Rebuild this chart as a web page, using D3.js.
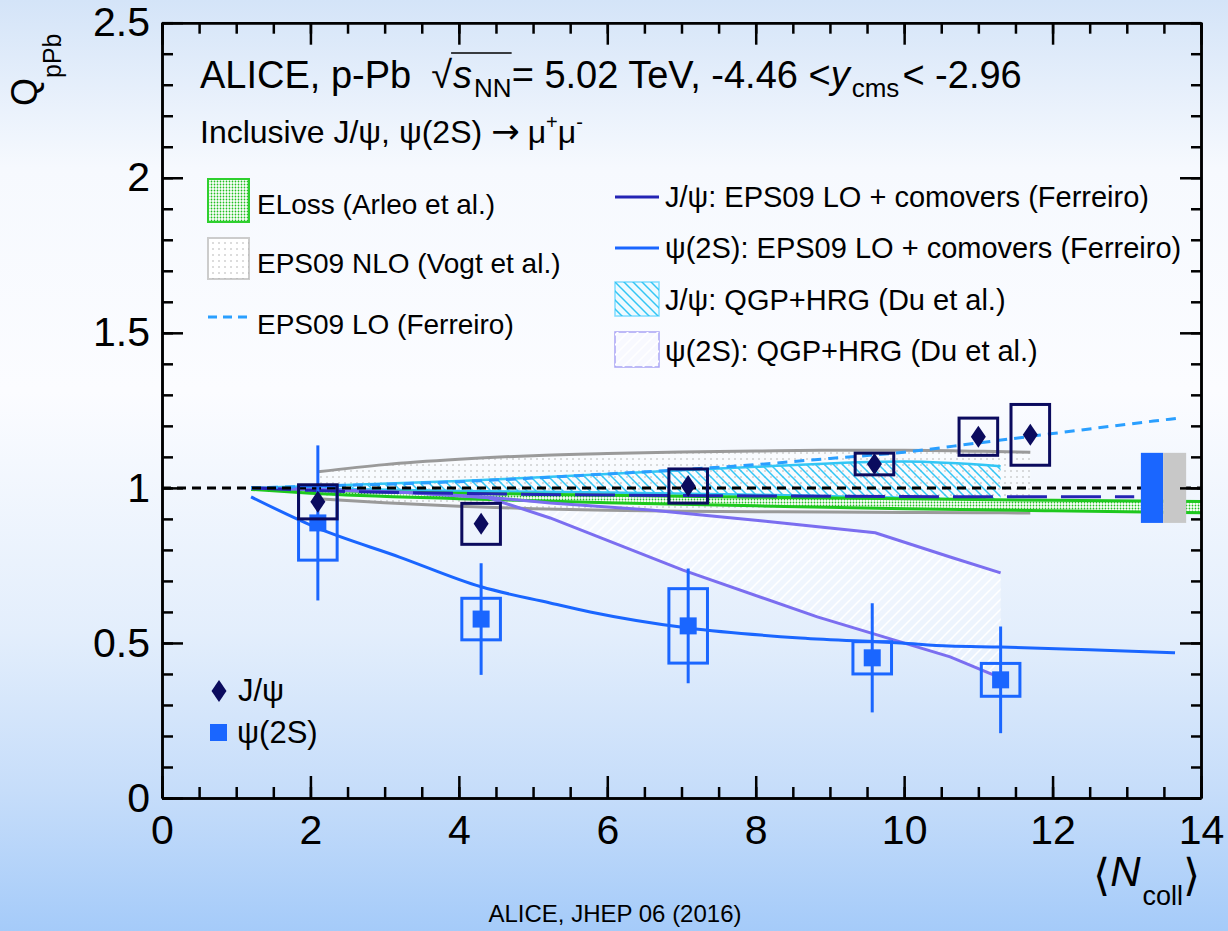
<!DOCTYPE html>
<meta charset="utf-8">
<head>
  <title>ALICE QpPb vs Ncoll</title>
</head>
<style>
body { margin: 0; }
svg { display: block; font-family: "Liberation Sans", Arial, Helvetica, sans-serif; }
</style>
<body>
  <svg width="1228" height="931"></svg>
  <script src="https://cdnjs.cloudflare.com/ajax/libs/d3/7.8.5/d3.min.js"></script>
  <script>
// ---- data ----
var xMajor = [0, 2, 4, 6, 8, 10, 12, 14];
var xMinor = d3.range(0, 14.01, 0.5);
var yMajor = [0, 0.5, 1, 1.5, 2, 2.5];
var yMinor = d3.range(0, 2.501, 0.1);

// J/psi points
var jpsiX    = [2.10, 4.30, 7.09, 9.60, 11.00, 11.70];
var jpsiQ    = [0.955, 0.884, 1.006, 1.077, 1.165, 1.171];
var jpsiSyst = [0.055, 0.066, 0.055, 0.035, 0.060, 0.098];
var jpsiStat = [0.020, 0.022, 0.020, 0.020, 0.022, 0.022];

// psi(2S) points
var psiX    = [2.10, 4.30, 7.09, 9.57, 11.30];
var psiQ    = [0.887, 0.577, 0.555, 0.452, 0.381];
var psiStat = [0.250, 0.180, 0.185, 0.176, 0.172];
var psiSyst = [0.120, 0.067, 0.120, 0.052, 0.053];
var boxHalfWidth = 0.26;

// global uncertainties (J/psi blue, psi(2S) grey)
var globX0  = [13.19, 13.49];
var globX1  = [13.49, 13.80];
var globUnc = [0.113, 0.113];

// EPS09 NLO (Vogt) band
var nloX  = [2.1, 3, 4, 5, 6, 7, 8, 9, 10, 11, 11.7];
var nloHi = [1.052, 1.075, 1.092, 1.104, 1.111, 1.116, 1.119, 1.121, 1.121, 1.118, 1.115];
var nloLo = [0.965, 0.952, 0.941, 0.933, 0.928, 0.925, 0.923, 0.922, 0.921, 0.920, 0.919];

// ELoss (Arleo) band
var elX  = [1.2, 2, 4, 6, 8, 10, 12, 14];
var elHi = [1.000, 0.993, 0.983, 0.976, 0.970, 0.965, 0.960, 0.956];
var elLo = [0.995, 0.983, 0.965, 0.952, 0.942, 0.933, 0.926, 0.920];

// EPS09 LO (Ferreiro)
var loX = [1.2, 2, 4, 6, 8, 9, 10, 11, 12, 13, 13.7];
var loQ = [1.000, 1.005, 1.020, 1.045, 1.075, 1.095, 1.115, 1.145, 1.175, 1.205, 1.225];

// J/psi: EPS09 LO + comovers (Ferreiro)
var jcoX = [1.2, 2, 4, 6, 8, 10, 12, 13.1];
var jcoQ = [1.000, 0.992, 0.982, 0.977, 0.974, 0.972, 0.971, 0.971];

// psi(2S): EPS09 LO + comovers (Ferreiro)
var pcoX = [1.2, 2.1, 3.2, 4.3, 5.23, 5.77, 7.09, 8.6, 9.95, 10.6, 11.3, 12.5, 13.65];
var pcoQ = [0.971, 0.870, 0.777, 0.681, 0.629, 0.600, 0.548, 0.516, 0.500, 0.490, 0.487, 0.478, 0.468];

// J/psi: QGP+HRG (Du) band
var jduX  = [1.2, 2, 4, 6, 8, 10, 11.3];
var jduHi = [1.000, 1.005, 1.022, 1.045, 1.068, 1.085, 1.070];
var jduLo = [1.000, 0.998, 0.990, 0.985, 0.978, 0.968, 0.958];

// psi(2S): QGP+HRG (Du) band
var pduX  = [1.2, 2.1, 3.3, 4.4, 5.23, 6.58, 8.1, 9.61, 10.62, 11.3];
var pduHi = [1.000, 0.995, 0.985, 0.970, 0.951, 0.929, 0.893, 0.855, 0.777, 0.726];
var pduLoX = [1.2, 2.1, 3.3, 4.4, 5.23, 7.02, 8.83, 10.62, 11.3];
var pduLo = [1.000, 0.995, 0.985, 0.968, 0.903, 0.735, 0.584, 0.455, 0.387];

// ---- chart ----
var svg = d3.select('svg');
var W = 1228, H = 931;
var x = d3.scaleLinear().domain([0, 14]).range([162, 1201]);
var y = d3.scaleLinear().domain([0, 2.5]).range([798, 22.7]);

var defs = svg.append('defs');
var grad = defs.append('linearGradient').attr('id', 'bg').attr('x1', 0).attr('y1', 0).attr('x2', 0).attr('y2', 1);
[[0, '#d4e4f8'], [0.18, '#f6f9fe'], [0.42, '#fbfcff'], [0.68, '#e3eefc'], [0.85, '#c6ddfa'], [1, '#a5cbf9']]
  .forEach(function(s) { grad.append('stop').attr('offset', s[0]).attr('stop-color', s[1]); });

var pDots = defs.append('pattern').attr('id', 'dots').attr('patternUnits', 'userSpaceOnUse').attr('width', 6).attr('height', 6);
pDots.append('circle').attr('cx', 3).attr('cy', 3).attr('r', 0.75).attr('fill', '#a8a8a8');

var pGreen = defs.append('pattern').attr('id', 'gdots').attr('patternUnits', 'userSpaceOnUse').attr('width', 3).attr('height', 3);
pGreen.append('rect').attr('width', 3).attr('height', 3).attr('fill', '#ffffff');
pGreen.append('circle').attr('cx', 1.5).attr('cy', 1.5).attr('r', 0.9).attr('fill', '#22c022');

var pCyan = defs.append('pattern').attr('id', 'chatch').attr('patternUnits', 'userSpaceOnUse').attr('width', 9).attr('height', 9);
pCyan.append('path').attr('d', 'M0,0L9,9M-3,6L3,12M6,-3L12,3').attr('stroke', '#33c6f5').attr('stroke-width', 1.5);

var pPurp = defs.append('pattern').attr('id', 'phatch').attr('patternUnits', 'userSpaceOnUse').attr('width', 10).attr('height', 10);
pPurp.append('path').attr('d', 'M0,10L10,0M-3,3L3,-3M7,13L13,7').attr('stroke', '#ffffff').attr('stroke-width', 1.5);

svg.append('rect').attr('width', W).attr('height', H).attr('fill', 'url(#bg)');

var plot = svg.append('g');

function band(xs, lo, hi, fill) {
  var pts = xs.map(function(v, i) { return [v, lo[i], hi[i]]; });
  return plot.append('path').datum(pts)
    .attr('d', d3.area().x(function(d) { return x(d[0]); }).y0(function(d) { return y(d[1]); }).y1(function(d) { return y(d[2]); }).curve(d3.curveMonotoneX))
    .attr('fill', fill).attr('stroke', 'none');
}
function curve(xs, ys, color, width, dash, crv) {
  var pts = xs.map(function(v, i) { return [v, ys[i]]; });
  return plot.append('path').datum(pts)
    .attr('d', d3.line().x(function(d) { return x(d[0]); }).y(function(d) { return y(d[1]); }).curve(crv || d3.curveMonotoneX))
    .attr('fill', 'none').attr('stroke', color).attr('stroke-width', width).attr('stroke-dasharray', dash || null);
}

// purple psi(2S) QGP+HRG band (fill between two separately sampled edges)
(function() {
  var up = pduX.map(function(v, i) { return [x(v), y(pduHi[i])]; });
  var lo = pduLoX.map(function(v, i) { return [x(v), y(pduLo[i])]; }).reverse();
  var line = d3.line();
  plot.append('path').attr('d', line(up.concat(lo)) + 'Z').attr('fill', 'rgba(255,255,255,0.35)');
  plot.append('path').attr('d', line(up.concat(lo)) + 'Z').attr('fill', 'url(#phatch)');
})();

// EPS09 NLO band
band(nloX, nloLo, nloHi, 'rgba(255,255,255,0.45)');
band(nloX, nloLo, nloHi, 'url(#dots)');
curve(nloX, nloHi, '#9a9a9a', 3);
curve(nloX, nloLo, '#9a9a9a', 3);

// cyan J/psi QGP+HRG band
band(jduX, jduLo, jduHi, 'url(#chatch)');
curve(jduX, jduHi, '#33c6f5', 2.5);
curve(jduX, jduLo, '#33c6f5', 2.5);

// green ELoss band
band(elX, elLo, elHi, 'url(#gdots)');
curve(elX, elHi, '#1ec81e', 3);
curve(elX, elLo, '#1ec81e', 3);

// model curves
curve(pduX, pduHi, '#7b6ef0', 3, null, d3.curveLinear);
curve(pduLoX, pduLo, '#7b6ef0', 3, null, d3.curveLinear);
curve(pcoX, pcoQ, '#1a66ff', 3);
curve(jcoX, jcoQ, '#2424b4', 3, '40,14');
curve(loX, loQ, '#2a9fff', 3, '10,7');

// unity line
plot.append('line').attr('x1', x(0)).attr('x2', x(14)).attr('y1', y(1)).attr('y2', y(1))
  .attr('stroke', '#000').attr('stroke-width', 3).attr('stroke-dasharray', '9,6');

// global uncertainty boxes
plot.selectAll('rect.glob').data(globX0).enter().append('rect').attr('class', 'glob')
  .attr('x', function(d) { return x(d); })
  .attr('width', function(d, i) { return x(globX1[i]) - x(d); })
  .attr('y', function(d, i) { return y(1 + globUnc[i]); })
  .attr('height', function(d, i) { return y(1 - globUnc[i]) - y(1 + globUnc[i]); })
  .attr('fill', function(d, i) { return i === 0 ? '#1a66ff' : '#c8c8c8'; });

// psi(2S) data
var psiCol = '#1a66ff';
plot.selectAll('line.pstat').data(psiX).enter().append('line').attr('class', 'pstat')
  .attr('x1', function(d) { return x(d); }).attr('x2', function(d) { return x(d); })
  .attr('y1', function(d, i) { return y(psiQ[i] + psiStat[i]); })
  .attr('y2', function(d, i) { return y(psiQ[i] - psiStat[i]); })
  .attr('stroke', psiCol).attr('stroke-width', 3);
plot.selectAll('rect.psys').data(psiX).enter().append('rect').attr('class', 'psys')
  .attr('x', function(d) { return x(d - boxHalfWidth); })
  .attr('width', function(d) { return x(d + boxHalfWidth) - x(d - boxHalfWidth); })
  .attr('y', function(d, i) { return y(psiQ[i] + psiSyst[i]); })
  .attr('height', function(d, i) { return y(psiQ[i] - psiSyst[i]) - y(psiQ[i] + psiSyst[i]); })
  .attr('fill', 'none').attr('stroke', psiCol).attr('stroke-width', 3);
plot.selectAll('rect.pmk').data(psiX).enter().append('rect').attr('class', 'pmk')
  .attr('x', function(d) { return x(d) - 8.5; }).attr('y', function(d, i) { return y(psiQ[i]) - 8.5; })
  .attr('width', 17).attr('height', 17).attr('fill', psiCol);

// J/psi data
var jCol = '#0b0b5e';
plot.selectAll('line.jstat').data(jpsiX).enter().append('line').attr('class', 'jstat')
  .attr('x1', function(d) { return x(d); }).attr('x2', function(d) { return x(d); })
  .attr('y1', function(d, i) { return y(jpsiQ[i] + jpsiStat[i]); })
  .attr('y2', function(d, i) { return y(jpsiQ[i] - jpsiStat[i]); })
  .attr('stroke', jCol).attr('stroke-width', 3);
plot.selectAll('rect.jsys').data(jpsiX).enter().append('rect').attr('class', 'jsys')
  .attr('x', function(d) { return x(d - boxHalfWidth); })
  .attr('width', function(d) { return x(d + boxHalfWidth) - x(d - boxHalfWidth); })
  .attr('y', function(d, i) { return y(jpsiQ[i] + jpsiSyst[i]); })
  .attr('height', function(d, i) { return y(jpsiQ[i] - jpsiSyst[i]) - y(jpsiQ[i] + jpsiSyst[i]); })
  .attr('fill', 'none').attr('stroke', jCol).attr('stroke-width', 3);
var diamond = 'M0,-11L7.5,0L0,11L-7.5,0Z';
plot.selectAll('path.jmk').data(jpsiX).enter().append('path').attr('class', 'jmk')
  .attr('transform', function(d, i) { return 'translate(' + x(d) + ',' + y(jpsiQ[i]) + ')'; })
  .attr('d', diamond).attr('fill', jCol);

// ---- axes / frame ----
var frame = svg.append('g').attr('class', 'frame');
function styleAxis(g) {
  g.attr('font-family', null).attr('font-size', null);
  g.selectAll('line').attr('stroke', '#000').attr('stroke-width', 2.5);
  g.selectAll('.domain').attr('stroke', '#000').attr('stroke-width', 2.5);
  g.selectAll('text').attr('font-size', 41).attr('fill', '#000');
}
frame.append('g').attr('transform', 'translate(0,' + y(0) + ')')
  .call(d3.axisBottom(x).tickValues(xMinor).tickSize(-11).tickSizeOuter(0).tickFormat(''))
  .call(styleAxis);
frame.append('g').attr('transform', 'translate(0,' + y(0) + ')')
  .call(d3.axisBottom(x).tickValues(xMajor).tickSize(-22).tickSizeOuter(0).tickPadding(17).tickFormat(d3.format('d')))
  .call(styleAxis);
frame.append('g').attr('transform', 'translate(0,' + y(2.5) + ')')
  .call(d3.axisTop(x).tickValues(xMinor).tickSize(-11).tickSizeOuter(0).tickFormat(''))
  .call(styleAxis);
frame.append('g').attr('transform', 'translate(0,' + y(2.5) + ')')
  .call(d3.axisTop(x).tickValues(xMajor).tickSize(-22).tickSizeOuter(0).tickFormat(''))
  .call(styleAxis);
frame.append('g').attr('transform', 'translate(' + x(0) + ',0)')
  .call(d3.axisLeft(y).tickValues(yMinor).tickSize(-11).tickSizeOuter(0).tickFormat(''))
  .call(styleAxis);
frame.append('g').attr('transform', 'translate(' + x(0) + ',0)')
  .call(d3.axisLeft(y).tickValues(yMajor).tickSize(-21).tickSizeOuter(0).tickPadding(12).tickFormat(function(d) { return String(d); }))
  .call(styleAxis);
frame.append('g').attr('transform', 'translate(' + x(14) + ',0)')
  .call(d3.axisRight(y).tickValues(yMinor).tickSize(-10).tickSizeOuter(0).tickFormat(''))
  .call(styleAxis);
frame.append('g').attr('transform', 'translate(' + x(14) + ',0)')
  .call(d3.axisRight(y).tickValues(yMajor).tickSize(-21).tickSizeOuter(0).tickFormat(''))
  .call(styleAxis);

// ---- texts ----
function rich(x0, yb, parts) {
  var cx = x0, out = [];
  parts.forEach(function(p) {
    var t = svg.append('text').attr('x', cx).attr('y', yb + (p.dy || 0))
      .attr('font-size', p.size).attr('font-style', p.italic ? 'italic' : null)
      .attr('font-family', p.family || null).text(p.t);
    var w = t.node().getComputedTextLength();
    out.push({ x: cx, w: w });
    cx += w + (p.gap || 0);
  });
  return out;
}

var hs = 38, hsub = 26;
var head = rich(200, 88, [
  { t: 'ALICE, p-Pb', size: hs, gap: 20 },
  { t: '\u221A', size: hs, gap: 1 },
  { t: 's', size: hs, italic: true, gap: 2 },
  { t: 'NN', size: hsub, dy: 9 },
  { t: '= 5.02 TeV, -4.46 <', size: hs },
  { t: 'y', size: hs, italic: true, gap: 2 },
  { t: 'cms', size: hsub, dy: 9, gap: 3 },
  { t: '< -2.96', size: hs }
]);
svg.append('line').attr('x1', head[1].x + head[1].w - 1).attr('x2', head[3].x + head[3].w)
  .attr('y1', 88 - 35).attr('y2', 88 - 35).attr('stroke', '#000').attr('stroke-width', 1.5);

rich(200, 143, [
  { t: 'Inclusive J/\u03C8, \u03C8(2S)', size: 32, gap: 9 },
  { t: '\u2192', size: 34, family: 'DejaVu Sans', gap: 8 },
  { t: '\u03BC', size: 32 },
  { t: '+', size: 20, dy: -14 },
  { t: '\u03BC', size: 32 },
  { t: '-', size: 20, dy: -14 }
]);

// left legend
var lg = svg.append('g').attr('font-size', 28);
lg.append('rect').attr('x', 208).attr('y', 179).attr('width', 41).attr('height', 43).attr('fill', 'url(#gdots)').attr('stroke', '#2ed02e').attr('stroke-width', 2);
lg.append('text').attr('x', 257).attr('y', 214).text('ELoss (Arleo et al.)');
lg.append('rect').attr('x', 208).attr('y', 238).attr('width', 41).attr('height', 41).attr('fill', '#ffffff').attr('stroke', '#cccccc').attr('stroke-width', 2);
lg.append('rect').attr('x', 208).attr('y', 238).attr('width', 41).attr('height', 41).attr('fill', 'url(#dots)');
lg.append('text').attr('x', 257).attr('y', 273).text('EPS09 NLO (Vogt et al.)');
lg.append('line').attr('x1', 208).attr('x2', 249).attr('y1', 317).attr('y2', 317).attr('stroke', '#2a9fff').attr('stroke-width', 3).attr('stroke-dasharray', '9,6');
lg.append('text').attr('x', 257).attr('y', 334).text('EPS09 LO (Ferreiro)');

// right legend
var rg = svg.append('g').attr('font-size', 29);
rg.append('line').attr('x1', 615).attr('x2', 659).attr('y1', 197).attr('y2', 197).attr('stroke', '#2424b4').attr('stroke-width', 3);
rg.append('text').attr('x', 665).attr('y', 207).text('J/\u03C8: EPS09 LO + comovers (Ferreiro)');
rg.append('line').attr('x1', 615).attr('x2', 659).attr('y1', 248).attr('y2', 248).attr('stroke', '#1a66ff').attr('stroke-width', 3);
rg.append('text').attr('x', 665).attr('y', 258).text('\u03C8(2S): EPS09 LO + comovers (Ferreiro)');
rg.append('rect').attr('x', 615).attr('y', 282).attr('width', 44).attr('height', 34).attr('fill', '#eefaff').attr('stroke', '#7fdcff').attr('stroke-width', 1.5);
rg.append('rect').attr('x', 615).attr('y', 282).attr('width', 44).attr('height', 34).attr('fill', 'url(#chatch)');
rg.append('text').attr('x', 665).attr('y', 310).text('J/\u03C8: QGP+HRG (Du et al.)');
rg.append('rect').attr('x', 615).attr('y', 332).attr('width', 44).attr('height', 35).attr('fill', '#f8f9ff').attr('stroke', '#a9a4f5').attr('stroke-width', 1.5);
rg.append('rect').attr('x', 615).attr('y', 332).attr('width', 44).attr('height', 35).attr('fill', 'url(#phatch)');
rg.append('text').attr('x', 665).attr('y', 361).text('\u03C8(2S): QGP+HRG (Du et al.)');

// marker legend
var mg = svg.append('g').attr('font-size', 31);
mg.append('path').attr('transform', 'translate(219,691)').attr('d', diamond).attr('fill', jCol);
mg.append('text').attr('x', 238).attr('y', 701).text('J/\u03C8');
mg.append('rect').attr('x', 210).attr('y', 724).attr('width', 17).attr('height', 17).attr('fill', psiCol);
mg.append('text').attr('x', 237).attr('y', 743).text('\u03C8(2S)');

// axis titles
var yt = svg.append('text').attr('transform', 'translate(37,106) rotate(-90)').attr('font-size', 36);
yt.append('tspan').text('Q');
yt.append('tspan').attr('font-size', 25).attr('dy', 24).text('pPb');

rich(1093, 886, [
  { t: '\u27E8', size: 44, family: 'DejaVu Sans', dy: 4 },
  { t: 'N', size: 42, italic: true, gap: 2 },
  { t: 'coll', size: 27, dy: 19 },
  { t: '\u27E9', size: 44, family: 'DejaVu Sans', dy: 4 }
]);

svg.append('text').attr('x', 615).attr('y', 922).attr('text-anchor', 'middle').attr('font-size', 24).text('ALICE, JHEP 06 (2016)');
  </script>
</body>
</html>
